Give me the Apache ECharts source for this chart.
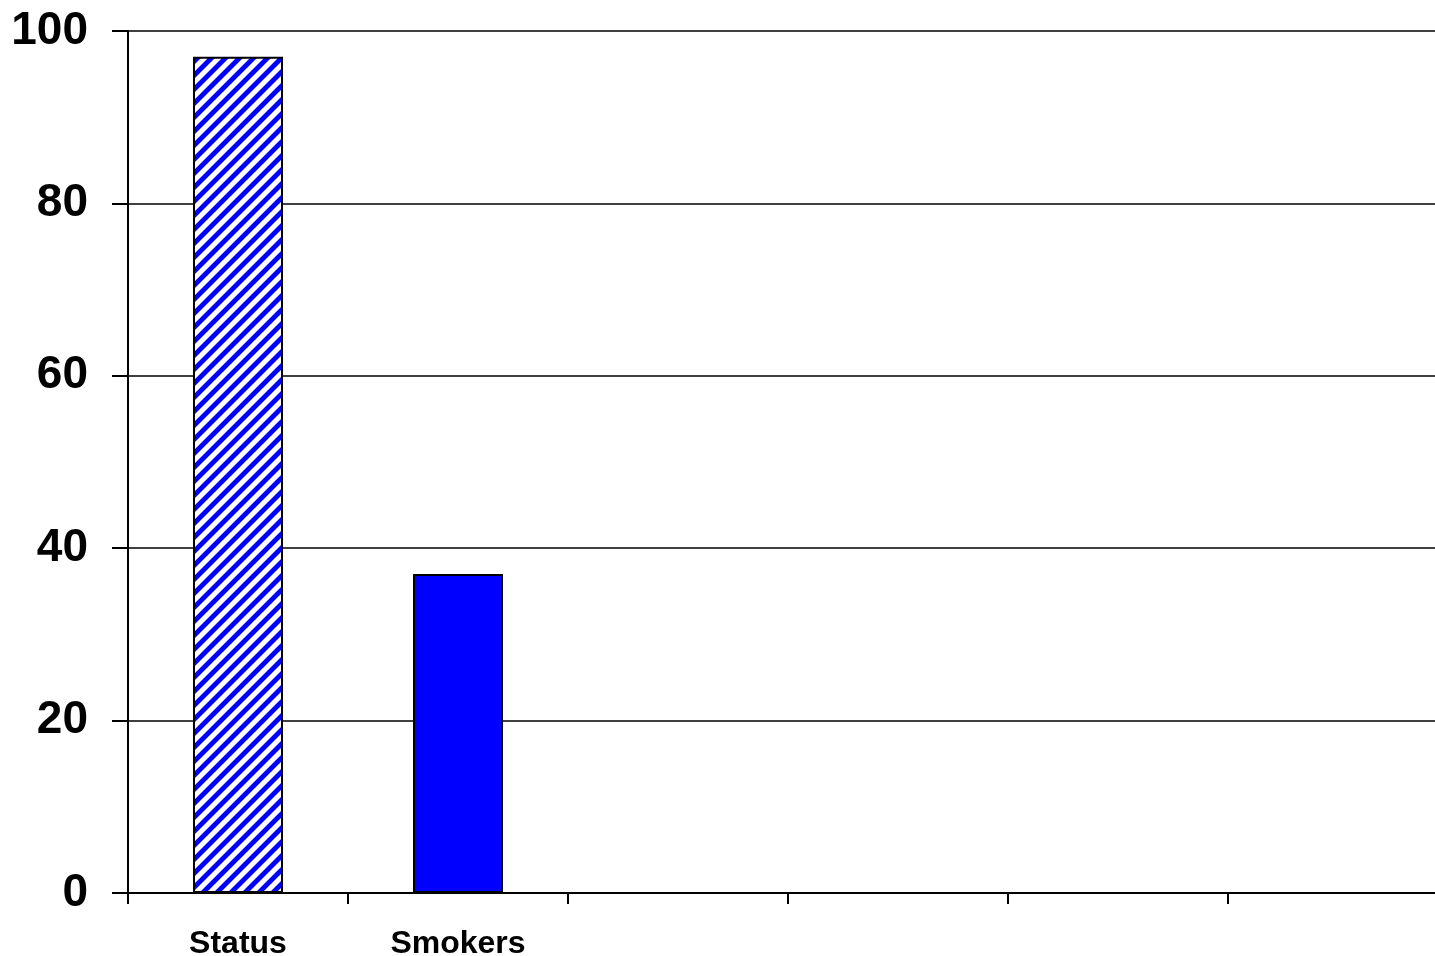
<!DOCTYPE html>
<html>
<head>
<meta charset="utf-8">
<script src="https://cdn.jsdelivr.net/npm/echarts@6/dist/echarts.min.js"></script>
<style>
  html, body { margin: 0; padding: 0; background: #fff; overflow: hidden; }
  #chart { width: 1448px; height: 956px; }
</style>
</head>
<body>
<div id="chart"></div>
<script>
// Category slots along the x axis (only the first two carry data)
const categories = ['Status', 'Smokers', '', '', '', ''];
// Percent values per category
const statusValues = [97, null, null, null, null, null];
const smokerValues = [null, 37, null, null, null, null];
// Y axis range and step
const yMin = 0, yMax = 100, yStep = 20;

// Seamless diagonal blue hatch tile ("/" stripes) for the first bar
function makeHatch() {
  const s = 14, band = 6;
  const c = document.createElement('canvas');
  c.width = s; c.height = s;
  const g = c.getContext('2d');
  const img = g.createImageData(s, s);
  for (let y = 0; y < s; y++) {
    for (let x = 0; x < s; x++) {
      const d = ((x + y) % s + 0.5);
      // coverage of blue band with soft edges
      let a;
      if (d < band) a = 1;
      else if (d < band + 1) a = 0.45;
      else if (d > s - 1) a = 0.45;
      else a = 0;
      const i = (y * s + x) * 4;
      img.data[i] = Math.round(255 * (1 - a));
      img.data[i + 1] = Math.round(255 * (1 - a));
      img.data[i + 2] = 255;
      img.data[i + 3] = 255;
    }
  }
  g.putImageData(img, 0, 0);
  return c;
}

const chart = echarts.init(document.getElementById('chart'), null, { renderer: 'canvas' });
const font = '"Liberation Sans", Arial, sans-serif';

chart.setOption({
  animation: false,
  backgroundColor: '#fff',
  grid: { left: 128, top: 31, bottom: 63, right: 0, containLabel: false, outerBoundsMode: 'none' },
  xAxis: {
    type: 'category',
    data: categories,
    axisLine: { lineStyle: { color: '#000', width: 2 } },
    axisTick: { show: true, alignWithLabel: false, length: 11, lineStyle: { color: '#000', width: 2 } },
    axisLabel: { color: '#000', fontFamily: font, fontWeight: 'bold', fontSize: 32, margin: 35, interval: 0 },
    splitLine: { show: false }
  },
  yAxis: {
    type: 'value',
    min: yMin, max: yMax, interval: yStep,
    axisLine: { show: true, lineStyle: { color: '#000', width: 2 } },
    axisTick: { show: true, inside: false, length: 16, lineStyle: { color: '#000', width: 2 } },
    axisLabel: { color: '#000', fontFamily: font, fontWeight: 'bold', fontSize: 46, margin: 40 },
    splitLine: { show: true, lineStyle: { color: '#000', width: 1.5 } }
  },
  series: [
    {
      type: 'bar',
      data: statusValues,
      barWidth: 90,
      barGap: '-100%',
      itemStyle: {
        color: { image: makeHatch(), repeat: 'repeat' },
        borderColor: '#000',
        borderWidth: 2
      }
    },
    {
      type: 'bar',
      data: smokerValues,
      barWidth: 90,
      barGap: '-100%',
      itemStyle: { color: '#0000ff', borderColor: '#000', borderWidth: 2 }
    }
  ]
});
</script>
</body>
</html>
